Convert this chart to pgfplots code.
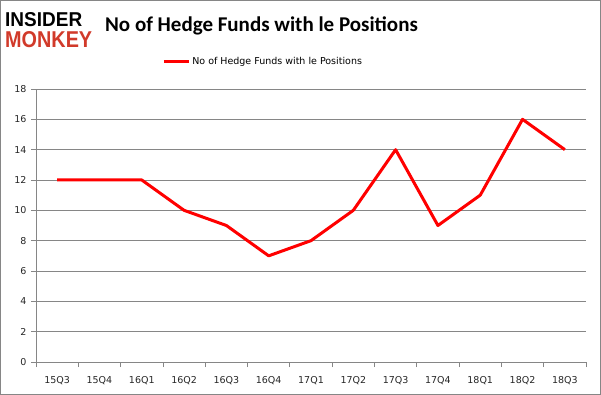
\documentclass[border=0pt]{standalone}
\usepackage{pgfplots}
\pgfplotsset{compat=1.18}
\usepackage{fontspec}
\setmainfont{DejaVu Sans}
\newfontfamily\titlefont{Carlito}
\newfontfamily\logofont{Liberation Sans}
\definecolor{imred}{RGB}{209,58,42}
\definecolor{gridgray}{RGB}{134,134,134}
\begin{document}
\begin{tikzpicture}[x=1pt,y=1pt]
\useasboundingbox (0,0) rectangle (601,395);
\draw[gridgray, line width=1pt] (0.5,0.5) rectangle (600.5,394.5);
\node[anchor=south west, inner sep=0] at (5,368) {\resizebox{77pt}{14pt}{\logofont\bfseries INSIDER}};
\node[anchor=south west, inner sep=0] at (5,347) {\resizebox{87pt}{16pt}{\logofont\bfseries\color{imred}MONKEY}};
\node[anchor=center, inner sep=0] at (261.5,369) {\titlefont\fontsize{21}{24}\selectfont\bfseries No of Hedge Funds with le Positions};
\begin{axis}[
  at={(36pt,33pt)}, anchor=south west,
  width=550pt, height=273pt, scale only axis,
  xmin=-0.5, xmax=12.5, ymin=0, ymax=18,
  axis x line*=bottom, axis y line*=left,
  axis line style={gridgray, line width=0.8pt, -},
  xtick={0,...,12},
  xticklabels={15Q3,15Q4,16Q1,16Q2,16Q3,16Q4,17Q1,17Q2,17Q3,17Q4,18Q1,18Q2,18Q3},
  minor xtick={-0.5,0.5,...,12.5},
  major x tick style={draw=none},
  minor x tick style={gridgray, line width=0.8pt},
  ytick={0,2,...,18},
  ymajorgrids, major grid style={gridgray, line width=0.8pt},
  y tick style={gridgray, line width=0.8pt},
  tick align=outside,
  major tick length=5pt, minor tick length=5pt,
  tick label style={font=\fontsize{9.5}{11}\selectfont, text=black!85},
  /pgf/number format/assume math mode=true,
  xticklabel style={yshift=-6pt},
  yticklabel style={xshift=-1pt},
  legend style={at={(0.413,1.099)}, anchor=center, draw=none, fill=none,
    font=\fontsize{9.5}{11}\selectfont, inner sep=0pt},
  legend image code/.code={\draw[#1, line width=3pt] (0pt,0pt) -- (25pt,0pt);},
  clip=false,
]
\addplot[color=red, line width=3pt, line join=round] coordinates {
(0,12) (1,12) (2,12) (3,10) (4,9) (5,7) (6,8) (7,10) (8,14) (9,9) (10,11) (11,16) (12,14)
};
\addlegendentry{No of Hedge Funds with le Positions}
\end{axis}
\end{tikzpicture}
\end{document}
